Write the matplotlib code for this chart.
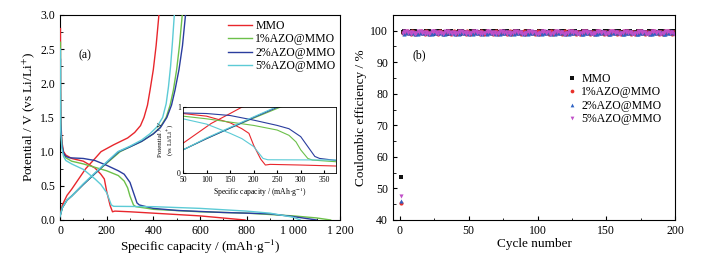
"""Galvanostatic profiles (a) and Coulombic efficiency (b) for MMO / AZO@MMO."""

import numpy as np
import matplotlib
matplotlib.use("Agg")
import matplotlib.pyplot as plt
from matplotlib.ticker import MultipleLocator, FixedLocator, FixedFormatter

plt.rcParams["font.family"] = ["Liberation Serif", "DejaVu Serif"]
plt.rcParams["mathtext.fontset"] = "stix"

# ----------------------------------------------------------------------
# Data
# ----------------------------------------------------------------------
LABELS = ["MMO", "1%AZO@MMO", "2%AZO@MMO", "5%AZO@MMO"]
LINE_COLORS = ["#e8262c", "#6cc04a", "#2a3d9e", "#5ccbd6"]

# first discharge: capacity (mAh/g), potential (V)
DIS_CAP_MMO = [2, 2, 3, 8, 15, 25, 50, 100, 150, 175, 190, 200, 215, 225, 235, 300, 400, 600, 793]
DIS_V_MMO = [2.8, 2.2, 1.5, 1.15, 1.0, 0.95, 0.9, 0.86, 0.76, 0.67, 0.6, 0.42, 0.21, 0.12, 0.13, 0.12, 0.1, 0.06, 0.0]

DIS_CAP_1 = [2, 2, 3, 8, 15, 25, 50, 100, 150, 200, 250, 275, 290, 300, 315, 325, 375, 400, 600, 800, 1000, 1100, 1160]
DIS_V_1 = [2.6, 2.0, 1.4, 1.1, 0.97, 0.91, 0.86, 0.82, 0.77, 0.72, 0.65, 0.57, 0.47, 0.35, 0.22, 0.195, 0.17, 0.156, 0.12, 0.1, 0.06, 0.03, 0.0]

DIS_CAP_2 = [2, 2, 3, 8, 15, 25, 40, 100, 150, 200, 250, 275, 300, 315, 330, 340, 375, 400, 500, 700, 900, 1000, 1100]
DIS_V_2 = [2.35, 1.9, 1.4, 1.1, 0.98, 0.93, 0.91, 0.9, 0.87, 0.8, 0.72, 0.67, 0.55, 0.4, 0.25, 0.22, 0.19, 0.17, 0.14, 0.11, 0.09, 0.05, 0.0]

DIS_CAP_5 = [2, 2, 3, 8, 15, 25, 50, 100, 150, 175, 200, 220, 230, 400, 600, 800, 900, 1000, 1030]
DIS_V_5 = [2.5, 1.8, 1.3, 1.05, 0.93, 0.87, 0.82, 0.74, 0.6, 0.52, 0.4, 0.22, 0.2, 0.195, 0.17, 0.13, 0.1, 0.04, 0.0]

# first charge
CHG_CAP_MMO = [0, 10, 30, 50, 80, 110, 150, 176, 230, 290, 320, 345, 360, 375, 386, 400, 412, 424]
CHG_V_MMO = [0.06, 0.22, 0.36, 0.45, 0.6, 0.75, 0.9, 1.0, 1.1, 1.2, 1.28, 1.38, 1.5, 1.68, 1.9, 2.2, 2.55, 3.0]

CHG_CAP_1 = [0, 10, 30, 50, 100, 150, 200, 258, 300, 350, 400, 430, 455, 472, 486, 500, 512, 524]
CHG_V_1 = [0.05, 0.18, 0.29, 0.35, 0.52, 0.68, 0.83, 1.0, 1.07, 1.15, 1.26, 1.36, 1.5, 1.68, 1.9, 2.2, 2.55, 3.0]

CHG_CAP_2 = [0, 10, 30, 50, 100, 150, 200, 252, 300, 350, 400, 430, 458, 478, 493, 510, 525, 538]
CHG_V_2 = [0.05, 0.18, 0.29, 0.35, 0.52, 0.68, 0.84, 1.0, 1.07, 1.15, 1.26, 1.35, 1.5, 1.68, 1.9, 2.2, 2.55, 3.0]

CHG_CAP_5 = [0, 10, 30, 50, 100, 150, 200, 248, 300, 350, 385, 415, 440, 455, 465, 474, 482, 490]
CHG_V_5 = [0.05, 0.18, 0.29, 0.35, 0.53, 0.69, 0.85, 1.0, 1.08, 1.17, 1.26, 1.36, 1.5, 1.7, 1.95, 2.25, 2.6, 3.0]

DIS_CAP = [DIS_CAP_MMO, DIS_CAP_1, DIS_CAP_2, DIS_CAP_5]
DIS_V = [DIS_V_MMO, DIS_V_1, DIS_V_2, DIS_V_5]
CHG_CAP = [CHG_CAP_MMO, CHG_CAP_1, CHG_CAP_2, CHG_CAP_5]
CHG_V = [CHG_V_MMO, CHG_V_1, CHG_V_2, CHG_V_5]

# Coulombic efficiency: first cycle, then cycles 2..200 (digit d -> 98.9 + 0.11*d %)
CE_FIRST = [53.5, 45.5, 46.0, 47.5]
CE_DIGITS = [
    "5847362958174637285946173829564718293657481926357481927365849172638495716283947561829374658192736458192736485917263849571628394756182937465819273648591726384957162839475618293746581927364859172638495716283947",
    "3729461850372946185037294618503729416850293746185029374618502937461580293746158029374615802937461580293746158029374615802938471650293847165029384716502938471650293847165029384716502938471650293847165029384716",
    "6184927350618492735061849273506184927305618492730561849273056184927305618429730561842973056184297305618429730561842973056184297356018429735601842973560184297356018429735601842973560184297356018429735601842973",
    "2958361740295836174029583617402958361704295836170429583617042958361704295836170429583671042958367104295836710429583671042958367104295836710429583671042958367104295836710429583671042958367104295836710429583",
]
MARKERS = ["s", "o", "^", "v"]
CE_COLORS = ["#111111", "#e8302a", "#2f63c4", "#c04fc8"]


def ce_values(first, digits):
    vals = [first] + [98.9 + 0.11 * int(c) for c in digits[:199]]
    return np.array(vals)


# ----------------------------------------------------------------------
# Figure
# ----------------------------------------------------------------------
fig = plt.figure(figsize=(7.16, 2.57), dpi=100)
ax_a = fig.add_axes([0.0838, 0.144, 0.391, 0.798])
ax_b = fig.add_axes([0.5489, 0.144, 0.394, 0.798])
ax_in = fig.add_axes([0.2556, 0.327, 0.2137, 0.257])

FS_TICK = 8.5
FS_LABEL = 9.5
FS_LEG = 8.5

# (a) charge / discharge profiles (drawn above the spines, like the original)
for i in range(4):
    ax_a.plot(DIS_CAP[i], DIS_V[i], color=LINE_COLORS[i], lw=1.0, label=LABELS[i], zorder=3)
    ax_a.plot(CHG_CAP[i], CHG_V[i], color=LINE_COLORS[i], lw=1.0, zorder=3)

ax_a.set_xlim(0, 1200)
ax_a.set_ylim(0, 3.0)
ax_a.xaxis.set_major_locator(FixedLocator([0, 200, 400, 600, 800, 1000, 1200]))
ax_a.xaxis.set_major_formatter(FixedFormatter(["0", "200", "400", "600", "800", "1 000", "1 200"]))
ax_a.xaxis.set_minor_locator(MultipleLocator(100))
ax_a.yaxis.set_major_locator(MultipleLocator(0.5))
ax_a.yaxis.set_minor_locator(MultipleLocator(0.25))
ax_a.yaxis.set_major_formatter(plt.FormatStrFormatter("%.1f"))
ax_a.tick_params(which="both", direction="in", top=False, right=False, labelsize=FS_TICK)
ax_a.tick_params(which="major", length=3)
ax_a.tick_params(which="minor", length=1.8)
ax_a.set_xlabel("Specific capacity / (mAh·g$^{-1}$)", fontsize=FS_LABEL, labelpad=1)
ax_a.set_ylabel("Potential / V (vs Li/Li$^{+}$)", fontsize=FS_LABEL, labelpad=2)
ax_a.text(0.065, 0.79, "(a)", transform=ax_a.transAxes, fontsize=FS_TICK)
ax_a.legend(loc="upper right", bbox_to_anchor=(1.01, 1.01), frameon=False,
            fontsize=FS_LEG, handlelength=2.0, handletextpad=0.3, labelspacing=0.12,
            borderaxespad=0.2)

# inset (zoom of the plateau region)
for i in range(4):
    ax_in.plot(DIS_CAP[i], DIS_V[i], color=LINE_COLORS[i], lw=0.8)
    ax_in.plot(CHG_CAP[i], CHG_V[i], color=LINE_COLORS[i], lw=0.8)
ax_in.set_xlim(50, 375)
ax_in.set_ylim(0, 1)
ax_in.xaxis.set_major_locator(MultipleLocator(50))
ax_in.yaxis.set_major_locator(FixedLocator([0, 1]))
ax_in.tick_params(direction="in", length=2, labelsize=5.5, pad=1.5, top=False, right=False)
ax_in.tick_params(axis="x", pad=2.5)
ax_in.set_xlabel("Specific capacity / (mAh·g$^{-1}$)", fontsize=5.5, labelpad=0.5)
ax_in.set_ylabel("Potential / V\n(vs Li/Li$^{+}$)", fontsize=5, labelpad=1, linespacing=1.4)
for sp in ax_in.spines.values():
    sp.set_linewidth(0.6)

# (b) Coulombic efficiency
for i in range(4):
    ce = ce_values(CE_FIRST[i], CE_DIGITS[i])
    cyc = np.arange(1, len(ce) + 1)
    ax_b.plot(cyc, ce, ls="none", marker=MARKERS[i], ms=3.0, mew=0,
              color=CE_COLORS[i], label=LABELS[i])

ax_b.set_xlim(-5, 200)
ax_b.set_ylim(40, 105)
ax_b.xaxis.set_major_locator(MultipleLocator(50))
ax_b.xaxis.set_minor_locator(MultipleLocator(25))
ax_b.yaxis.set_major_locator(MultipleLocator(10))
ax_b.yaxis.set_minor_locator(MultipleLocator(5))
ax_b.tick_params(which="both", direction="in", top=False, right=False, labelsize=FS_TICK)
ax_b.tick_params(which="major", length=3)
ax_b.tick_params(which="minor", length=1.8)
ax_b.set_xlabel("Cycle number", fontsize=FS_LABEL, labelpad=1)
ax_b.set_ylabel("Coulombic efficiency / %", fontsize=FS_LABEL, labelpad=2)
ax_b.text(0.07, 0.79, "(b)", transform=ax_b.transAxes, fontsize=FS_TICK)
ax_b.legend(loc="upper left", bbox_to_anchor=(0.6, 0.74), frameon=False,
            fontsize=FS_LEG, handlelength=0.8, handletextpad=0.4, labelspacing=0.12,
            markerscale=0.9, borderaxespad=0.0)

fig.savefig("out.png", dpi=100)
